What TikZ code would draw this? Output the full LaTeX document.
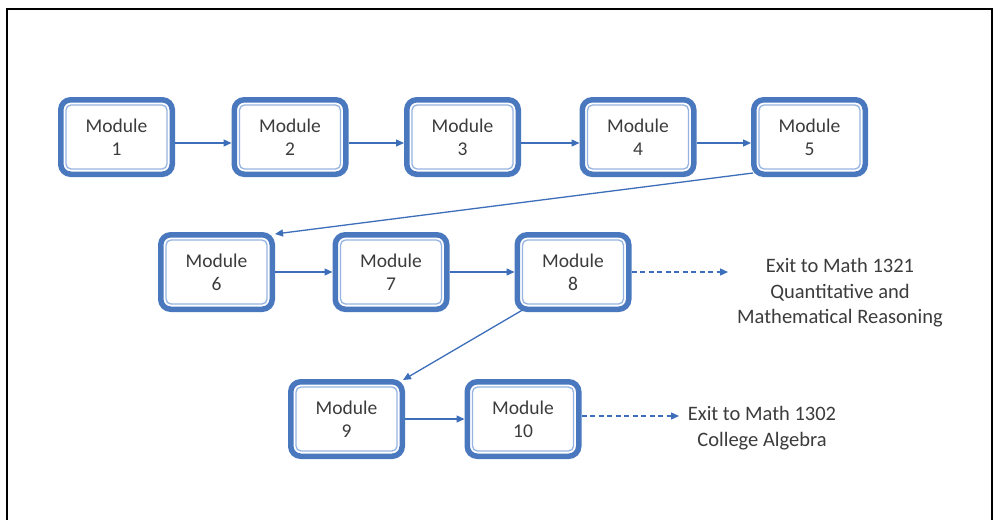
\documentclass[tikz,border=0pt]{standalone}
\usepackage{fontspec}
\setmainfont{Carlito}
\usetikzlibrary{arrows.meta}
\definecolor{mblue}{RGB}{74,120,190}
\definecolor{lblue}{RGB}{150,180,225}
\definecolor{ablue}{RGB}{60,110,185}
\definecolor{tgray}{RGB}{60,60,60}
\begin{document}
\begin{tikzpicture}[x=1pt,y=-1pt,
 modbox/.style={draw=mblue, line width=5.5pt, rounded corners=10pt, fill=white, minimum width=111.5pt, minimum height=74.5pt, inner sep=0pt, align=center, text=tgray, font=\fontsize{19.5}{23}\selectfont},
 inline/.style={draw=lblue, line width=1.3pt, rounded corners=5pt},
 conn/.style={draw=ablue, line width=1.3pt, -{Triangle[length=8pt,width=7pt]}},
 dconn/.style={conn, dash pattern=on 5pt off 3.5pt},
 exittext/.style={text=tgray, font=\fontsize{20.5}{25.5}\selectfont, align=center, inner sep=0pt}]
\useasboundingbox (0,0) rectangle (994,520);
\fill[white] (0,0) rectangle (994,520);
\draw[line width=2.5pt] (7,520) -- (7,9) -- (992,9) -- (992,520);

\node[modbox] (m1) at (116.5,137) {Module\\1};
\node[modbox] (m2) at (290,137) {Module\\2};
\node[modbox] (m3) at (462.5,137) {Module\\3};
\node[modbox] (m4) at (638,137) {Module\\4};
\node[modbox] (m5) at (809.5,137) {Module\\5};
\node[modbox] (m6) at (216.5,272) {Module\\6};
\node[modbox] (m7) at (391,272) {Module\\7};
\node[modbox] (m8) at (573,272) {Module\\8};
\node[modbox] (m9) at (346.5,419) {Module\\9};
\node[modbox] (m10) at (523,419) {Module\\10};

\foreach \n in {m1,m2,m3,m4,m5,m6,m7,m8,m9,m10}
  \draw[inline] ([xshift=8pt,yshift=-8pt]\n.north west) rectangle ([xshift=-8pt,yshift=8pt]\n.south east);

\draw[conn] ([yshift=-6pt]m1.east) -- ([yshift=-6pt]m2.west);
\draw[conn] ([yshift=-6pt]m2.east) -- ([yshift=-6pt]m3.west);
\draw[conn] ([yshift=-6pt]m3.east) -- ([yshift=-6pt]m4.west);
\draw[conn] ([yshift=-6pt]m4.east) -- ([yshift=-6pt]m5.west);
\draw[conn] ([xshift=2pt,yshift=4pt]m5.south west) -- ([xshift=0pt,yshift=-2pt]m6.north east);
\draw[conn] (m6.east) -- (m7.west);
\draw[conn] (m7.east) -- (m8.west);
\draw[conn] ([xshift=8pt,yshift=2pt]m8.south west) -- ([xshift=-2pt,yshift=-1pt]m9.north east);
\draw[conn] (m9.east) -- (m10.west);

\node[exittext] (e1) at (840,293) {Exit to Math 1321\\Quantitative and\\Mathematical Reasoning};
\node[exittext] (e2) at (762,428) {Exit to Math 1302\\College Algebra};
\coordinate (x1) at (728,272);
\coordinate (x2) at (679,416);
\draw[dconn] (m8.east) -- (x1);
\draw[dconn] ([yshift=3pt]m10.east) -- (x2);
\end{tikzpicture}
\end{document}
